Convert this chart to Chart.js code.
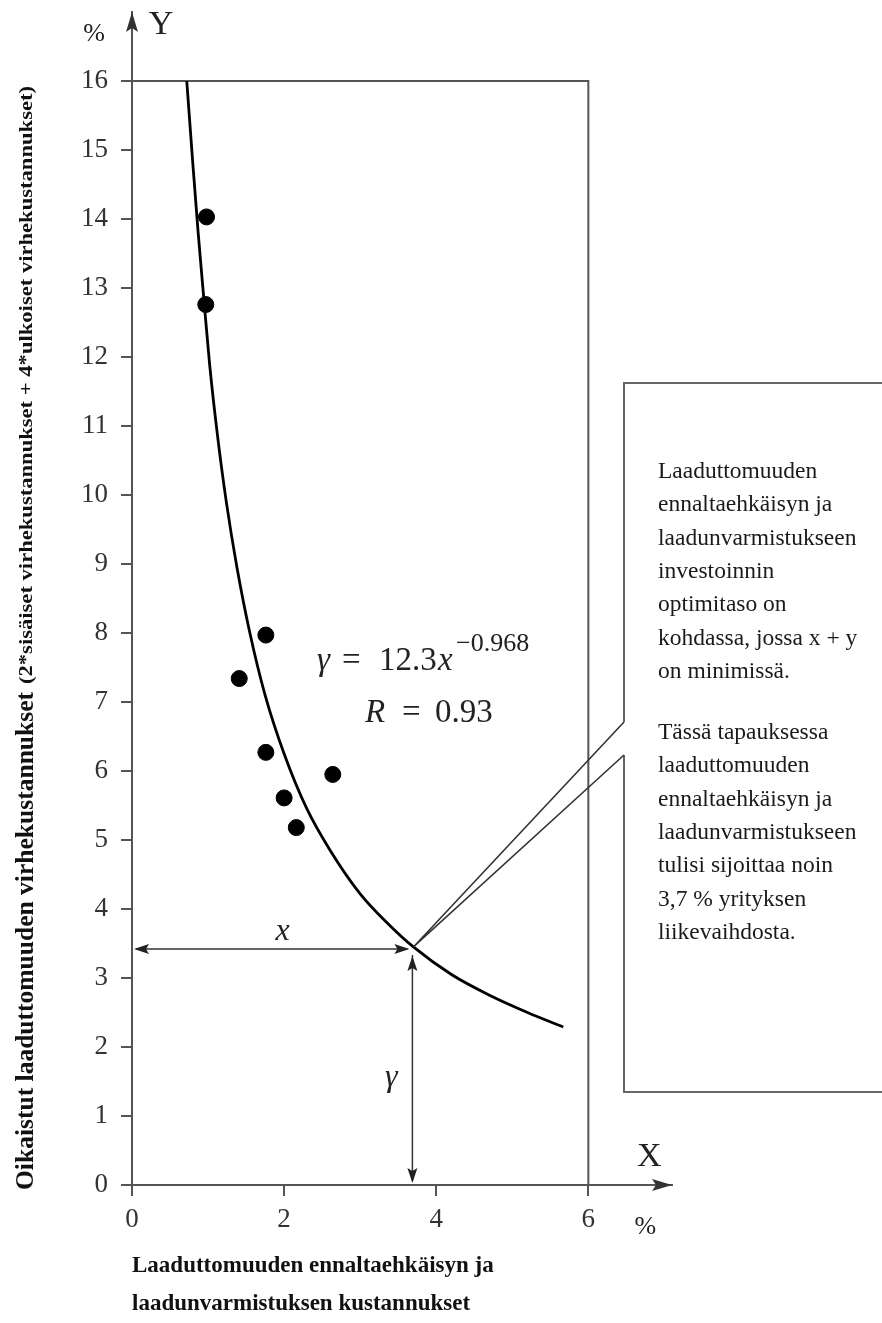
<!DOCTYPE html>
<html>
<head>
<meta charset="utf-8">
<script src="https://cdn.jsdelivr.net/npm/chart.js@4/dist/chart.umd.min.js"></script>
<style>
  html, body { margin: 0; padding: 0; background: #fff; }
</style>
</head>
<body>
<canvas id="chart" width="882" height="1323"></canvas>
<script>
// tick values on the axes
const xTickValues = [0, 2, 4, 6];
const yTickValues = [0, 1, 2, 3, 4, 5, 6, 7, 8, 9, 10, 11, 12, 13, 14, 15, 16];

// observed points (x %, y %)
const obsX = [0.98, 0.97, 1.76, 1.41, 1.76, 2.0, 2.16, 2.64];
const obsY = [14.03, 12.76, 7.97, 7.34, 6.27, 5.61, 5.18, 5.95];

// fitted curve
const fitX = [0.72, 0.80, 0.87, 0.94, 1.02, 1.12, 1.24, 1.38, 1.55, 1.75, 2.0, 2.3, 2.6, 3.0, 3.4, 3.7, 4.2, 4.7, 5.2, 5.67];
const fitY = [16.0, 14.8, 13.8, 12.9, 11.9, 10.9, 9.9, 8.95, 8.0, 7.1, 6.25, 5.45, 4.86, 4.22, 3.75, 3.45, 3.05, 2.75, 2.5, 2.29];

// frame line at y = 16 and x = 6
const frameX = [0, 6, 6];
const frameY = [16, 16, 0];

// optimum point
const optX = 3.7;
const optY = 3.45;

// texts
const yTitleMain = 'Oikaistut laaduttomuuden virhekustannukset';
const yTitleSub = '(2*sisäiset virhekustannukset + 4*ulkoiset virhekustannukset)';
const xTitleLines = ['Laaduttomuuden ennaltaehkäisyn ja', 'laadunvarmistuksen kustannukset'];
const noteLines1 = ['Laaduttomuuden', 'ennaltaehkäisyn ja', 'laadunvarmistukseen', 'investoinnin',
  'optimitaso on', 'kohdassa, jossa x + y', 'on minimissä.'];
const noteLines2 = ['Tässä tapauksessa', 'laaduttomuuden', 'ennaltaehkäisyn ja', 'laadunvarmistukseen',
  'tulisi sijoittaa noin', '3,7 % yrityksen', 'liikevaihdosta.'];

const SERIF = '"Liberation Serif", "DejaVu Serif", serif';

function toPoints(xs, ys) {
  return xs.map((x, i) => ({ x: x, y: ys[i] }));
}

function arrowHead(ctx, x, y, angle, len, half) {
  ctx.save();
  ctx.translate(x, y);
  ctx.rotate(angle);
  ctx.beginPath();
  ctx.moveTo(0, 0);
  ctx.lineTo(-len, -half);
  ctx.lineTo(-len * 0.8, 0);
  ctx.lineTo(-len, half);
  ctx.closePath();
  ctx.fill();
  ctx.restore();
}

// draws a text along a line, squeezed/stretched to a given length
function fitText(ctx, text, x, y, len) {
  const w = ctx.measureText(text).width;
  ctx.save();
  ctx.translate(x, y);
  ctx.scale(len / w, 1);
  ctx.fillText(text, 0, 0);
  ctx.restore();
}

const extras = {
  id: 'extras',
  afterDraw(chart) {
    const ctx = chart.ctx;
    const xs = chart.scales.x;
    const ys = chart.scales.y;
    const area = chart.chartArea;
    const x0 = xs.getPixelForValue(0);
    const y0 = ys.getPixelForValue(0);
    ctx.save();

    // axis arrows
    ctx.fillStyle = '#333';
    arrowHead(ctx, x0, area.top, -Math.PI / 2, 20, 6);
    arrowHead(ctx, area.right, y0, 0, 20, 6);

    // axis letters
    ctx.fillStyle = '#222';
    ctx.textAlign = 'center';
    ctx.textBaseline = 'middle';
    ctx.font = '34px ' + SERIF;
    ctx.fillText('Y', 161, 25);
    ctx.fillText('X', xs.getPixelForValue(6.8), y0 - 28);
    ctx.font = '26px ' + SERIF;
    ctx.fillText('%', 94, 34);
    ctx.fillText('%', xs.getPixelForValue(6.75), y0 + 42);

    // x and y measure arrows
    const px = xs.getPixelForValue(optX);
    const py = ys.getPixelForValue(optY);
    ctx.strokeStyle = '#333';
    ctx.lineWidth = 1.5;
    ctx.beginPath();
    ctx.moveTo(x0 + 4, py + 2);
    ctx.lineTo(px - 6, py + 2);
    ctx.moveTo(px - 1, py + 8);
    ctx.lineTo(px - 1, y0 - 4);
    ctx.stroke();
    ctx.fillStyle = '#222';
    arrowHead(ctx, x0 + 2, py + 2, Math.PI, 15, 5);
    arrowHead(ctx, px - 4, py + 2, 0, 15, 5);
    arrowHead(ctx, px - 1, py + 9, -Math.PI / 2, 15, 5);
    arrowHead(ctx, px - 1, y0 - 2, Math.PI / 2, 15, 5);
    ctx.font = 'italic 32px ' + SERIF;
    ctx.fillText('x', xs.getPixelForValue(1.98), py - 15);
    ctx.fillText('γ', px - 22, ys.getPixelForValue(1.55));

    // formula
    ctx.textAlign = 'left';
    ctx.textBaseline = 'alphabetic';
    ctx.font = 'italic 33px ' + SERIF;
    ctx.fillText('γ', 317, 670);
    ctx.fillText('x', 438, 670);
    ctx.fillText('R', 365, 722);
    ctx.font = '33px ' + SERIF;
    ctx.fillText('=', 342, 670);
    ctx.fillText('12.3', 379, 670);
    ctx.fillText('=', 402, 722);
    ctx.fillText('0.93', 435, 722);
    ctx.font = '26px ' + SERIF;
    ctx.fillText('\u22120.968', 456, 651);

    // callout box with pointer
    ctx.strokeStyle = '#666';
    ctx.lineWidth = 2;
    ctx.beginPath();
    ctx.moveTo(890, 383);
    ctx.lineTo(624, 383);
    ctx.lineTo(624, 722);
    ctx.moveTo(624, 755);
    ctx.lineTo(624, 1092);
    ctx.lineTo(890, 1092);
    ctx.stroke();
    ctx.strokeStyle = '#333';
    ctx.lineWidth = 1.6;
    ctx.beginPath();
    ctx.moveTo(624, 722);
    ctx.lineTo(px, py);
    ctx.lineTo(624, 755);
    ctx.stroke();

    ctx.fillStyle = '#1a1a1a';
    ctx.font = '23.5px ' + SERIF;
    noteLines1.forEach((t, i) => ctx.fillText(t, 658, 478 + i * 33.3));
    noteLines2.forEach((t, i) => ctx.fillText(t, 658, 739 + i * 33.3));

    // rotated y title, two sizes
    ctx.save();
    ctx.translate(33, 1190);
    ctx.rotate(-Math.PI / 2);
    ctx.fillStyle = '#111';
    ctx.font = 'bold 25px ' + SERIF;
    fitText(ctx, yTitleMain, 0, 0, 498);
    ctx.font = 'bold 18px ' + SERIF;
    fitText(ctx, yTitleSub, 506, -1, 598);
    ctx.restore();

    ctx.restore();
  }
};

new Chart(document.getElementById('chart'), {
  type: 'scatter',
  data: {
    datasets: [
      {
        label: 'frame',
        data: toPoints(frameX, frameY),
        showLine: true,
        borderColor: '#555',
        borderWidth: 2,
        pointRadius: 0,
        order: 3
      },
      {
        label: 'fit',
        data: toPoints(fitX, fitY),
        showLine: true,
        cubicInterpolationMode: 'monotone',
        borderColor: '#000',
        borderWidth: 2.8,
        pointRadius: 0,
        order: 2
      },
      {
        label: 'observations',
        data: toPoints(obsX, obsY),
        backgroundColor: '#000',
        borderColor: '#000',
        pointRadius: 8,
        order: 1
      }
    ]
  },
  options: {
    responsive: false,
    animation: false,
    devicePixelRatio: 1,
    layout: { padding: { top: 12, right: 210, bottom: 0, left: 0 } },
    plugins: { legend: { display: false }, tooltip: { enabled: false } },
    scales: {
      x: {
        type: 'linear',
        min: 0,
        max: 7.1,
        border: { display: true, color: '#555', width: 2 },
        grid: { display: true, drawOnChartArea: false, drawTicks: true, tickLength: 11, color: '#555', lineWidth: 2 },
        ticks: { font: { family: SERIF, size: 27 }, color: '#333', padding: 8 },
        afterBuildTicks: (s) => { s.ticks = xTickValues.map(v => ({ value: v })); },
        afterFit: (s) => { s.height = 138; },
        title: {
          display: true,
          text: xTitleLines,
          align: 'start',
          color: '#111',
          font: { family: SERIF, size: 23, weight: 'bold', lineHeight: 1.65 },
          padding: { top: 0, bottom: 0 }
        }
      },
      y: {
        type: 'linear',
        min: 0,
        max: 17,
        border: { display: true, color: '#555', width: 2 },
        grid: { display: true, drawOnChartArea: false, drawTicks: true, tickLength: 11, color: '#555', lineWidth: 2 },
        ticks: { font: { family: SERIF, size: 27 }, color: '#333', padding: 13 },
        afterBuildTicks: (s) => { s.ticks = yTickValues.map(v => ({ value: v })); },
        afterFit: (s) => { s.width = 132; s.paddingTop = 0; s.paddingBottom = 0; }
      }
    }
  },
  plugins: [extras]
});
</script>
</body>
</html>
